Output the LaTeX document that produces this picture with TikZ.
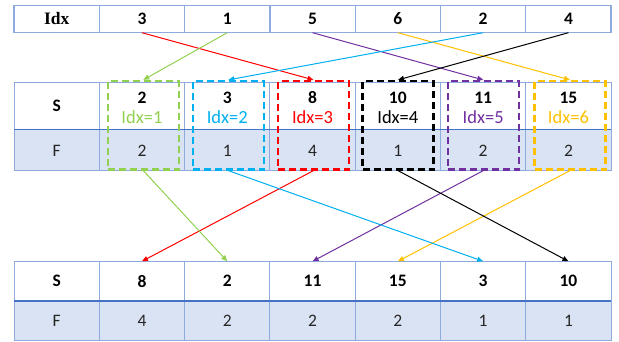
\documentclass[tikz,border=0pt]{standalone}
\usepackage{fontspec}
\setmainfont{Carlito}
\newfontfamily\serifbold{Liberation Serif}
\usetikzlibrary{arrows.meta}

\definecolor{gridline}{HTML}{8FAADC}
\definecolor{gridmid}{HTML}{4472C4}
\definecolor{frow}{HTML}{DAE3F3}
\definecolor{cgreen}{HTML}{92D050}
\definecolor{cblue}{HTML}{00B0F0}
\definecolor{cred}{HTML}{FF0000}
\definecolor{cpurple}{HTML}{7030A0}
\definecolor{cyellow}{HTML}{FFC000}

\tikzset{
	cell/.style={minimum width=85.3pt, inner sep=0pt, font=\fontsize{17.5}{20}\selectfont\bfseries},
	topcell/.style={cell, minimum height=27pt},
	scell/.style={cell, minimum height=39.5pt},
	stxt/.style={font=\fontsize{17.5}{20}\selectfont\bfseries},
	itxt/.style={font=\fontsize{18.5}{20}\selectfont},
	ftxt/.style={font=\fontsize{17.5}{20}\selectfont, text=black!85},
	group/.style={draw, dashed, dash pattern=on 7pt off 4pt, line width=2.2pt, minimum width=71pt, minimum height=88.5pt, inner sep=0pt},
	link/.style={line width=1pt, -{Triangle[length=6pt,width=5pt]}},
}

\begin{document}
\begin{tikzpicture}[x=1pt,y=-1pt]
	\useasboundingbox (0,0) rectangle (619,341);

	% top index row
	\draw[gridline, line width=1.8pt] (14,5.5) rectangle (611,32.5);
	\foreach \x in {99.3,184.6,269.9,355.2,440.5,525.8}
		\draw[gridline, line width=1.2pt] (\x,5.5) -- (\x,32.5);
	\node[topcell] (i0) at (56.65,19) {\serifbold\bfseries Idx};
	\node[topcell] (i1) at (141.95,19) {3};
	\node[topcell] (i2) at (227.25,19) {1};
	\node[topcell] (i3) at (312.55,19) {5};
	\node[topcell] (i4) at (397.85,19) {6};
	\node[topcell] (i5) at (483.15,19) {2};
	\node[topcell] (i6) at (568.45,19) {4};

	% sorted table (S over F)
	\fill[frow] (14,129.5) rectangle (611,170.5);
	\draw[gridline, line width=1pt] (14,82.5) rectangle (611,170.5);
	\foreach \x in {99.3,184.6,269.9,355.2,440.5,525.8}
		\draw[gridline, line width=1pt] (\x,82.5) -- (\x,170.5);
	\draw[gridmid, line width=1.4pt] (14,129.5) -- (611,129.5);

	\node[stxt] (s0) at (56.65,106) {S};
	\node[ftxt] (f0) at (56.65,150.5) {F};
	\node[stxt] (s1) at (141.95,97.5) {2};
	\node[itxt, text=cgreen] (x1) at (141.95,117.5) {Idx=1};
	\node[ftxt] (f1) at (141.95,150.5) {2};
	\node[stxt] (s2) at (227.25,97.5) {3};
	\node[itxt, text=cblue] (x2) at (227.25,117.5) {Idx=2};
	\node[ftxt] (f2) at (227.25,150.5) {1};
	\node[stxt] (s3) at (312.55,97.5) {8};
	\node[itxt, text=cred] (x3) at (312.55,117.5) {Idx=3};
	\node[ftxt] (f3) at (312.55,150.5) {4};
	\node[stxt] (s4) at (397.85,97.5) {10};
	\node[itxt] (x4) at (397.85,117.5) {Idx=4};
	\node[ftxt] (f4) at (397.85,150.5) {1};
	\node[stxt] (s5) at (483.15,97.5) {11};
	\node[itxt, text=cpurple] (x5) at (483.15,117.5) {Idx=5};
	\node[ftxt] (f5) at (483.15,150.5) {2};
	\node[stxt] (s6) at (568.45,97.5) {15};
	\node[itxt, text=cyellow] (x6) at (568.45,117.5) {Idx=6};
	\node[ftxt] (f6) at (568.45,150.5) {2};

	% dashed groups round each column
	\node[group, cgreen] (g1) at (143.3,125.25) {};
	\node[group, cblue] (g2) at (228.3,125.25) {};
	\node[group, cred] (g3) at (313.5,125.25) {};
	\node[group, black] (g4) at (398,125.25) {};
	\node[group, cpurple] (g5) at (483.3,125.25) {};
	\node[group, cyellow] (g6) at (570,125.25) {};

	% result table
	\fill[frow] (14,301) rectangle (611,340.5);
	\draw[gridline, line width=1pt] (14,261.5) rectangle (611,340.5);
	\foreach \x in {99.3,184.6,269.9,355.2,440.5,525.8}
		\draw[gridline, line width=1pt] (\x,261.5) -- (\x,340.5);
	\draw[gridmid, line width=1.4pt] (14,301) -- (611,301);

	\node[scell] (r0) at (56.65,281.25) {S};
	\node[scell] (r1) at (141.95,281.25) {8};
	\node[scell] (r2) at (227.25,281.25) {2};
	\node[scell] (r3) at (312.55,281.25) {11};
	\node[scell] (r4) at (397.85,281.25) {15};
	\node[scell] (r5) at (483.15,281.25) {3};
	\node[scell] (r6) at (568.45,281.25) {10};
	\node[ftxt] (q0) at (56.65,321) {F};
	\node[ftxt] (q1) at (141.95,321) {4};
	\node[ftxt] (q2) at (227.25,321) {2};
	\node[ftxt] (q3) at (312.55,321) {2};
	\node[ftxt] (q4) at (397.85,321) {2};
	\node[ftxt] (q5) at (483.15,321) {1};
	\node[ftxt] (q6) at (568.45,321) {1};

	% index row -> groups
	\draw[link, cred] (i1.south) -- (g3.north);
	\draw[link, cgreen] (i2.south) -- (g1.north);
	\draw[link, cpurple] (i3.south) -- (g5.north);
	\draw[link, cyellow] (i4.south) -- (g6.north);
	\draw[link, cblue] (i5.south) -- (g2.north);
	\draw[link, black] (i6.south) -- (g4.north);

	% groups -> result columns
	\draw[link, cred] (g3.south) -- (r1.north);
	\draw[link, cgreen] (g1.south) -- (r2.north);
	\draw[link, cpurple] (g5.south) -- (r3.north);
	\draw[link, cyellow] (g6.south) -- (r4.north);
	\draw[link, cblue] (g2.south) -- (r5.north);
	\draw[link, black] (g4.south) -- (r6.north);
\end{tikzpicture}
\end{document}
